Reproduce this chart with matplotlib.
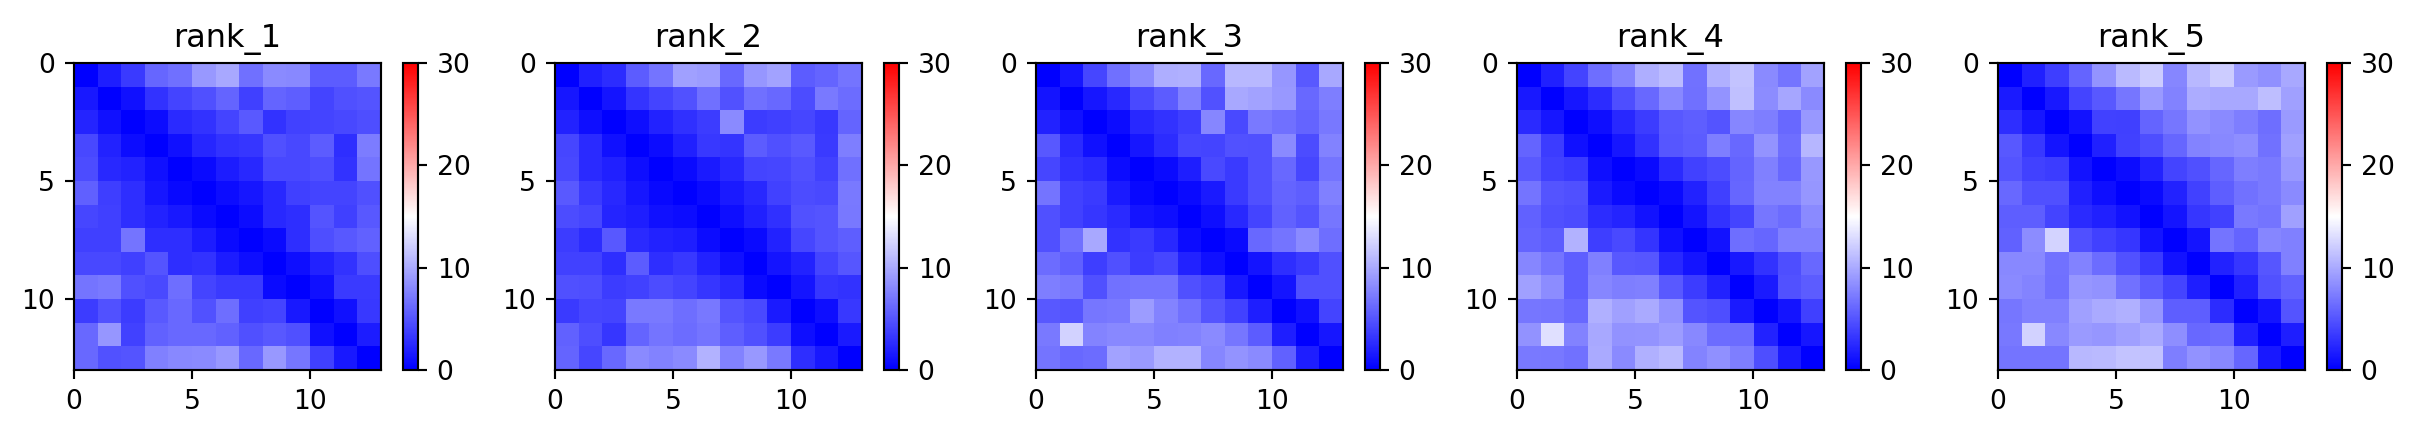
import numpy as np
import matplotlib
matplotlib.use("Agg")
import matplotlib.pyplot as plt

titles = ["rank_1", "rank_2", "rank_3", "rank_4", "rank_5"]

rank_1 = [
    [0, 1.8, 3.4, 6, 6.6, 9, 9.9, 6.6, 8.1, 8, 5.5, 5.5, 7.2],
    [1.5, 0, 1, 3, 4, 4.8, 5.9, 3.8, 5.9, 5.6, 4, 4.7, 5],
    [2.2, 1, 0, 0.8, 2.5, 3, 4, 5.3, 3, 3.9, 4, 4.3, 4.6],
    [4.3, 2, 0.8, 0, 1, 2.3, 3, 3.2, 4.7, 4.3, 5.4, 2.8, 7.3],
    [4.5, 2.4, 2, 1, 0, 0.6, 1.7, 2.4, 4.3, 4.3, 4.6, 3, 6.8],
    [5.7, 3.7, 2.7, 1.4, 0.5, 0, 0.8, 1.4, 2.4, 3.8, 4, 4, 4.8],
    [4.2, 3.8, 2.8, 2, 1.5, 0.7, 0, 0.8, 2.4, 2.8, 5, 3.8, 5.2],
    [3.8, 3.8, 6.9, 2.7, 2.7, 1.7, 0.7, 0, 0.7, 2.8, 4.6, 5.2, 5.8],
    [4.3, 4.3, 3.8, 5, 2.7, 3, 1.7, 0.9, 0, 0.9, 2, 3, 4.6],
    [6.8, 7.2, 4.7, 4.4, 6.5, 4, 3.4, 3.4, 0.7, 0, 1, 3.4, 3.4],
    [3.6, 4.9, 3.6, 5.3, 6.2, 4.9, 6.5, 3.8, 4.1, 1.5, 0, 1, 3.3],
    [6.2, 8.8, 3.9, 5.8, 6.1, 6.1, 5.8, 4.7, 5.2, 4.7, 1, 0, 1.7],
    [6.2, 4.9, 5, 7.5, 8, 8.2, 9, 6.1, 9, 7, 3.8, 1.5, 0],
]

rank_2 = [
    [0, 1.9, 2.6, 5.5, 6.9, 9.4, 9.2, 6.2, 8.9, 9.5, 5.5, 5.9, 6.9],
    [1.4, 0, 1.2, 3.1, 4, 4.9, 6.6, 4.9, 6.6, 6.2, 4.5, 7.2, 6.4],
    [2.1, 0.9, 0, 0.9, 2, 2.9, 3.6, 8.1, 3.6, 3.8, 4.2, 3.3, 5.9],
    [4.2, 2.5, 1, 0, 0.8, 1.9, 3.3, 3.1, 5.5, 4.8, 5.3, 3.5, 7.4],
    [4.3, 2.5, 1.9, 0.9, 0, 0.6, 1.6, 2.4, 4.1, 4.2, 4.7, 3.9, 6.6],
    [5.3, 3.5, 2.4, 1.4, 0.5, 0, 0.6, 1.6, 2.4, 3.9, 4.5, 4.4, 7.2],
    [4.5, 4.2, 2.2, 1.8, 1, 0.8, 0, 0.9, 1.9, 2.9, 4.9, 5, 7.1],
    [3.6, 2.6, 5.2, 2.5, 2, 1.8, 0.8, 0, 0.7, 2, 4.2, 5, 5.6],
    [3.9, 3.9, 2.8, 5.4, 2.8, 3.3, 2, 1, 0, 1.2, 2, 4.1, 5.1],
    [4.8, 4.6, 3.6, 3.9, 4.5, 4, 3.2, 2.5, 0.7, 0, 1.2, 3.2, 3],
    [3.5, 4.2, 4, 7.2, 7.2, 6.5, 7.1, 5, 4.4, 1.6, 0, 0.9, 3.3],
    [5.8, 4.6, 3.2, 5.9, 6.8, 6.4, 6.8, 5.6, 4.8, 3.6, 0.9, 0, 1.6],
    [5.9, 4.2, 6.1, 8.2, 7.7, 8.1, 10.5, 7.7, 9, 7.2, 2.8, 1.5, 0],
]

rank_3 = [
    [0, 1.3, 4.2, 6.6, 8.2, 10.2, 10.4, 6.1, 10.8, 10.8, 8.9, 5.3, 9.9],
    [1.2, 0, 1.3, 2.4, 4.4, 5.5, 7.5, 4.9, 9.9, 9.6, 9, 6.2, 7.4],
    [2, 1, 0, 0.8, 2.4, 3, 3.7, 7.9, 4.4, 7.2, 6.6, 5.9, 7.1],
    [5.2, 2.5, 1, 0, 1.3, 2.6, 4.2, 4, 4.9, 4.7, 8.2, 4.5, 7.7],
    [4.2, 3, 2.5, 0.8, 0, 0.6, 1.8, 4.4, 3.5, 4.8, 6.2, 4.2, 6.8],
    [6.8, 3.9, 3.4, 1.6, 0.5, 0, 0.6, 1.6, 3.5, 4.8, 5.9, 5.6, 7.5],
    [4.7, 3.9, 3.2, 2.5, 1.2, 0.9, 0, 0.9, 2.4, 4.1, 5.8, 5, 7],
    [4.7, 6.6, 9.9, 3, 3.5, 2.4, 0.8, 0, 0.7, 6.2, 6.8, 8.1, 6.5],
    [6.4, 5.7, 3.7, 4.8, 3.6, 4.2, 2, 1, 0, 1.2, 2.8, 3.5, 4.8],
    [7.4, 7.1, 4.7, 6.7, 6.9, 6.8, 4.8, 4.1, 1.5, 0, 1.2, 4.8, 4.7],
    [5.2, 5, 7, 7.2, 9.2, 7.8, 6.7, 5, 3.9, 1.8, 0, 1, 4.1],
    [7.2, 12.4, 7.8, 8, 8, 7.5, 7.7, 8.1, 7, 5.4, 1.8, 0, 1.4],
    [6.9, 6.1, 6.4, 9.6, 9.1, 10.5, 10.5, 7.9, 8.7, 8.2, 5.8, 1.8, 0],
]

rank_4 = [
    [0, 1.9, 4, 6.5, 7.8, 10.2, 11.1, 6.7, 10.4, 11.6, 8.2, 6.9, 9.5],
    [1.5, 0, 1.3, 2.6, 4.6, 6.2, 8, 6.6, 8.7, 11.3, 8.3, 9.8, 8.1],
    [2.5, 1.3, 0, 0.9, 2.4, 3.6, 5.2, 5.6, 5, 7.9, 7.4, 6.1, 9],
    [5.9, 3.6, 1, 0, 1.3, 3, 5.1, 5.5, 7.4, 6.1, 8.7, 6.5, 10.7],
    [5.3, 3.9, 3.4, 0.9, 0, 0.6, 2.5, 3.9, 4.5, 5.9, 7.5, 6.2, 9],
    [6.8, 5, 4.7, 1.6, 0.6, 0, 0.6, 2.1, 3.8, 6, 7.7, 7.7, 8.9],
    [5.8, 4.8, 4.5, 2.6, 2.2, 1.1, 0, 1.2, 3, 4.1, 7, 6.4, 8.2],
    [5.9, 5.5, 10.5, 3.7, 4.4, 3.1, 1, 0, 1.1, 6.5, 6, 7.5, 7.6],
    [7.9, 6.8, 5.6, 7.5, 5.2, 5.1, 2.4, 1.2, 0, 1.5, 3, 4.6, 6.2],
    [9.4, 8.3, 5.6, 7.9, 7.4, 7.5, 5.3, 3.6, 2.1, 0, 1.6, 4.9, 5.4],
    [7, 6.9, 6.2, 10.4, 9.4, 10, 8.6, 5, 4.6, 1.6, 0, 1.2, 3.8],
    [8.6, 13.2, 7.7, 9.9, 8.6, 8.7, 9.2, 8, 6.4, 6.4, 2, 0, 1.4],
    [7.2, 7.1, 6.7, 10, 8.2, 10.4, 10.9, 7.8, 8.5, 7.4, 4.6, 1.6, 0],
]

rank_5 = [
    [0, 1.9, 3.7, 5.9, 8.7, 11, 12, 7.9, 10.8, 12, 9.1, 8.5, 9.9],
    [1.6, 0, 1.5, 4, 5.2, 7, 9.1, 7.7, 10.1, 9.9, 9.9, 11.2, 9.4],
    [2.8, 1.3, 0, 1.1, 3.9, 3.8, 5.9, 7, 8.6, 8.1, 7.4, 6.5, 9.1],
    [5.2, 3.3, 1.2, 0, 1.9, 3.9, 4.6, 6, 7.8, 8, 8.4, 6.7, 9.4],
    [5, 3.9, 3.6, 1.1, 0, 0.8, 2, 4.1, 4.8, 6, 7.4, 7.2, 9],
    [6.2, 4.7, 4.7, 1.9, 0.9, 0, 0.7, 2.1, 3.9, 5.6, 6.7, 7.2, 8.1],
    [5.6, 5.6, 4, 2.5, 1.9, 1.1, 0, 1.2, 3.2, 3.9, 7.2, 6.8, 9.4],
    [5.8, 8.3, 12.5, 4.7, 3.9, 3.2, 1.2, 0, 1.2, 6.8, 5.9, 7.9, 7.5],
    [8, 8, 6.7, 7.7, 6.4, 4.9, 3.5, 1.1, 0, 2, 3.2, 5.1, 7.5],
    [8.1, 7.8, 6.6, 8.9, 8.6, 6.7, 5.4, 4.1, 1.8, 0, 1.9, 4.9, 5.8],
    [7, 7.5, 7.5, 9.4, 10, 10.4, 8.9, 5.6, 5.6, 2.6, 0, 1.2, 5],
    [7.1, 12.4, 8, 9.1, 8.8, 9.4, 10, 8.4, 6.2, 6.4, 1.9, 0, 1.8],
    [6.9, 6.9, 6.8, 10.8, 10.9, 11.5, 11.4, 7.4, 8.6, 8, 6, 1.5, 0],
]

matrices = [rank_1, rank_2, rank_3, rank_4, rank_5]

W, H = 2416, 438
DPI = 192
fig = plt.figure(figsize=(W / DPI, H / DPI), dpi=DPI)

for i, (name, m) in enumerate(zip(titles, matrices)):
    m = np.array(m)
    left = 74 + 481 * i
    ax = fig.add_axes([left / W, (H - 370) / H, 307 / W, 307 / H])
    im = ax.imshow(m, cmap="bwr", vmin=0, vmax=30, extent=[0, 13, 13, 0],
                   aspect="auto", interpolation="nearest")
    ax.set_xticks([0, 5, 10])
    ax.set_yticks([0, 5, 10])
    ax.set_title(name)
    # colorbar next to each panel
    cax = fig.add_axes([(left + 329) / W, (H - 370) / H, 15 / W, 307 / H])
    cb = fig.colorbar(im, cax=cax)
    cb.set_ticks([0, 10, 20, 30])

fig.savefig("out.png", dpi=DPI)
